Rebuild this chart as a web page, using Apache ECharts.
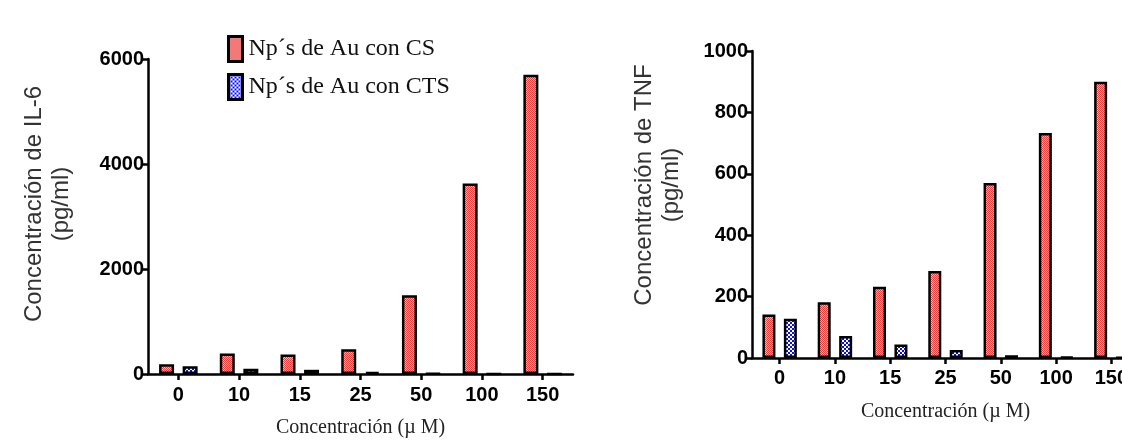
<!DOCTYPE html>
<html>
<head>
<meta charset="utf-8">
<script src="https://cdn.jsdelivr.net/npm/echarts@6/dist/echarts.min.js"></script>
<style>
  html, body { margin: 0; padding: 0; background: #fff; }
  #chart { width: 1122px; height: 441px; }
</style>
</head>
<body>
<div id="chart"></div>
<script>
// Concentration categories (µM)
const categories = ['0', '10', '15', '25', '50', '100', '150'];

// IL-6 (pg/ml)
const il6CS  = [185, 390, 370, 470, 1500, 3630, 5700];
const il6CTS = [150, 100, 80, 40, 10, 0, 0];

// TNF (pg/ml)
const tnfCS  = [142, 182, 232, 283, 570, 733, 900];
const tnfCTS = [128, 72, 44, 26, 9, 3, 2];

const seriesNames = ['Np´s de Au con CS', 'Np´s de Au con CTS'];
const il6Ticks = { max: 6000, interval: 2000 };
const tnfTicks = { max: 1000, interval: 200 };

// Checkered fill patterns for the bars
function makePattern(size, colA, colB, cell) {
  const c = document.createElement('canvas');
  c.width = size; c.height = size;
  const ctx = c.getContext('2d');
  for (let y = 0; y < size; y += cell) {
    for (let x = 0; x < size; x += cell) {
      ctx.fillStyle = (((x + y) / cell) % 2 === 0) ? colA : colB;
      ctx.fillRect(x, y, cell, cell);
    }
  }
  return c;
}
const redFill  = { image: makePattern(2, '#e8403e', '#fbb3b0', 1), repeat: 'repeat' };
const blueFill = { image: makePattern(4, '#0b10f0', '#ffffff', 2), repeat: 'repeat' };

const tickFont = { fontFamily: 'Liberation Sans, Arial, sans-serif', fontWeight: 'bold', fontSize: 20, color: '#000' };
const axisLine = { show: true, lineStyle: { color: '#000', width: 2.5 } };

function xAxisFor(gridIndex, labelMargin) {
  return {
    type: 'category', gridIndex, data: categories,
    boundaryGap: true,
    axisLine,
    axisTick: { show: true, alignWithLabel: true, length: 6, lineStyle: { color: '#000', width: 2.5 } },
    axisLabel: Object.assign({ margin: labelMargin }, tickFont),
    name: 'Concentración (µ M)',
    nameLocation: 'middle', nameGap: 44,
    nameTextStyle: { fontFamily: 'Liberation Serif, Times New Roman, serif', fontSize: 20, color: '#222' }
  };
}
function yAxisFor(gridIndex, ticks) {
  return {
    type: 'value', gridIndex, min: 0, max: ticks.max, interval: ticks.interval,
    axisLine,
    axisTick: { show: true, length: 5, lineStyle: { color: '#000', width: 2.5 } },
    axisLabel: Object.assign({ margin: 4, formatter: v => String(v) }, tickFont),
    splitLine: { show: false }
  };
}
function barSeries(name, data, fill, axisIdx, width, gap) {
  return {
    name, type: 'bar', data,
    xAxisIndex: axisIdx, yAxisIndex: axisIdx,
    barWidth: width, barGap: gap,
    itemStyle: { color: fill, borderColor: '#000', borderWidth: 2.5 },
    emphasis: { disabled: true },
    animation: false
  };
}

const yNameStyle = { fontFamily: 'Liberation Sans, Arial, sans-serif', fontSize: 24, fill: '#333', textAlign: 'center', textVerticalAlign: 'middle', lineHeight: 27 };

const chart = echarts.init(document.getElementById('chart'), null, { renderer: 'canvas' });
chart.setOption({
  backgroundColor: '#fff',
  animation: false,
  grid: [
    { left: 148, top: 59, width: 425, height: 315, outerBoundsMode: 'none' },
    { left: 752, top: 51, width: 387, height: 307, outerBoundsMode: 'none' }
  ],
  legend: {
    data: seriesNames,
    orient: 'vertical',
    left: 222, top: 30,
    icon: 'rect',
    itemWidth: 14, itemHeight: 25, itemGap: 10,
    itemStyle: { borderColor: '#000', borderWidth: 3 },
    textStyle: { fontFamily: 'Liberation Serif, Times New Roman, serif', fontSize: 24, color: '#111', padding: [0, 0, 0, 1] },
    selectedMode: false
  },
  xAxis: [xAxisFor(0, 11), xAxisFor(1, 10)],
  yAxis: [yAxisFor(0, il6Ticks), yAxisFor(1, tnfTicks)],
  series: [
    barSeries(seriesNames[0], il6CS, redFill, 0, 15, '57%'),
    barSeries(seriesNames[1], il6CTS, blueFill, 0, 15, '57%'),
    barSeries(seriesNames[0], tnfCS, redFill, 1, 13, '65%'),
    barSeries(seriesNames[1], tnfCTS, blueFill, 1, 13, '65%')
  ],
  graphic: [
    { type: 'text', x: 48, y: 204, rotation: Math.PI / 2,
      style: Object.assign({ text: 'Concentración de IL-6\n(pg/ml)' }, yNameStyle) },
    { type: 'text', x: 658, y: 185, rotation: Math.PI / 2,
      style: Object.assign({ text: 'Concentración de TNF\n(pg/ml)' }, yNameStyle) }
  ]
});
</script>
</body>
</html>
